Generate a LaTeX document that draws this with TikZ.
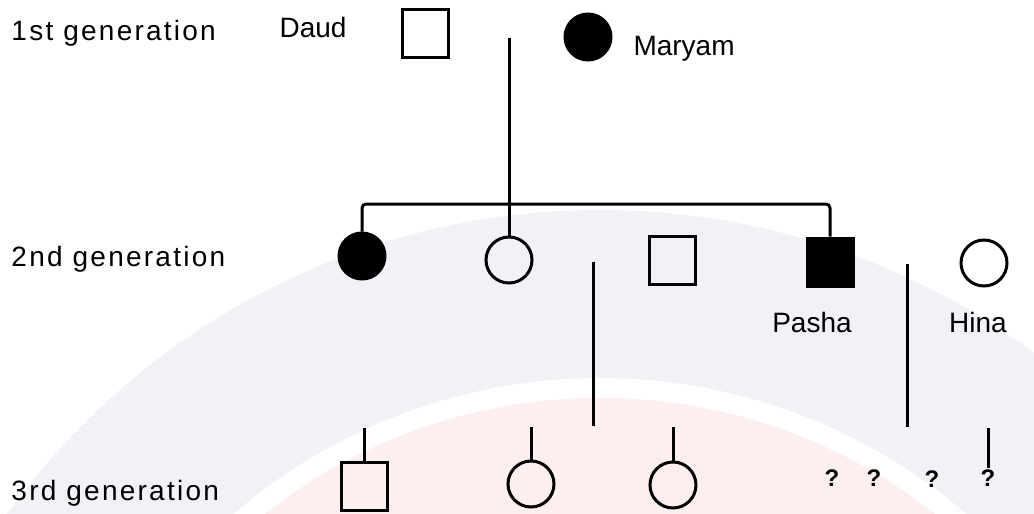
\documentclass[tikz,border=0pt]{standalone}
\usepackage{fontspec}
\setmainfont{Liberation Sans}
\definecolor{wmgray}{HTML}{F1F1F6}
\definecolor{wmpink}{HTML}{FDEFF0}
\begin{document}
\begin{tikzpicture}[x=1pt,y=-1pt,
  line width=3pt,
  lbl/.style={font=\fontsize{28}{30}\selectfont, inner sep=0pt},
  genlbl/.style={font=\fontsize{28}{30}\selectfont\addfontfeature{LetterSpace=8}, inner sep=0pt, anchor=base west},
  male/.style={draw, minimum width=46pt, minimum height=48pt, inner sep=0pt, line width=3pt},
  female/.style={draw, circle, minimum size=46pt, inner sep=0pt, line width=3pt},
  aff/.style={fill=black},
  qm/.style={font=\fontsize{24}{26}\selectfont\bfseries, inner sep=0pt}]
\useasboundingbox (0,0) rectangle (1034,514);
% faint background logo
\begin{scope}
\clip (0,0) rectangle (1034,514);
\fill[wmgray] (600,940) circle (730);
\fill[white] (600,940) circle (562);
\fill[wmpink] (600,940) circle (542);
\end{scope}

% generation labels
\node[genlbl] (g1) at (10,40) {1st generation};
\node[genlbl] (g2) at (10,266) {2nd generation};
\node[genlbl] (g3) at (10,500) {3rd generation};

% first generation
\node[male] (daud) at (425,33) {};
\node[lbl, anchor=base east] (daudl) at (348,37) {Daud};
\node[female, aff] (maryam) at (588,37) {};
\node[lbl, anchor=base west] (maryaml) at (632,55) {Maryam};
\coordinate (mate1) at (509,38);
\coordinate (sibL) at (362,204);
\coordinate (sibM) at (509,204);
\coordinate (sibR) at (830,204);

% second generation
\node[female, aff] (s1) at (362,256) {};
\node[female] (s2) at (509,260) {};
\node[male] (sp2) at (672,260) {};
\node[male, aff] (pasha) at (830,262) {};
\node[female] (hina) at (984,263) {};
\node[lbl, anchor=base] (pashal) at (812,332) {Pasha};
\node[lbl, anchor=base] (hinal) at (978,332) {Hina};

\draw (mate1) -- (sibM);
\draw[rounded corners=4pt] (s1.north) -- (sibL) -- (sibR) -- (pasha.north);
\draw (sibM) -- (s2.north);

% descent lines
\coordinate (d1t) at (593,262);
\coordinate (d1b) at (593,426);
\coordinate (d2t) at (907,264);
\coordinate (d2b) at (907,427);
\draw (d1t) -- (d1b);
\draw (d2t) -- (d2b);

% third generation
\node[male] (c1) at (364,486) {};
\node[female] (c2) at (531,484) {};
\node[female] (c3) at (673,485) {};
\coordinate (c1s) at (364,428);
\coordinate (c2s) at (531,427);
\coordinate (c3s) at (673,427);
\draw (c1s) -- (c1.north);
\draw (c2s) -- (c2.north);
\draw (c3s) -- (c3.north);

\node[qm] (q1) at (832,478) {?};
\node[qm] (q2) at (874,478) {?};
\node[qm] (q3) at (932,479) {?};
\node[qm] (q4) at (988,478) {?};
\coordinate (q4s) at (988,428);
\draw (q4s) -- (q4.north);
\end{tikzpicture}
\end{document}
